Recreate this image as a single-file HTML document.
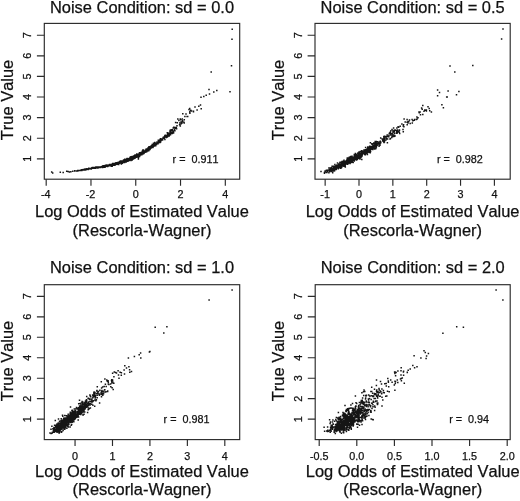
<!DOCTYPE html>
<html lang="en"><head><meta charset="utf-8"><title>Noise Condition scatter plots</title>
<style>
html,body{margin:0;padding:0;background:#fff;}
svg{display:block;}
text{font-family:"Liberation Sans", sans-serif;fill:#111;stroke:#111;stroke-width:.25px;font-kerning:none;}
.t{font-size:16.45px;}
.a{font-size:10.8px;}
.ln{stroke:#2a2a2a;stroke-width:1.15;fill:none;}
.pt{stroke:#151515;stroke-width:1.5;stroke-linecap:square;fill:none;}
</style></head><body>
<svg width="520" height="501" viewBox="0 0 520 501">
<rect width="520" height="501" fill="#fff"/>
<g>
<rect class="ln" x="44.3" y="23.4" width="195.4" height="155.8"/>
<path class="ln" d="M36.9 158.80H44.3M36.9 138.20H44.3M36.9 117.60H44.3M36.9 97.00H44.3M36.9 76.40H44.3M36.9 55.80H44.3M36.9 35.20H44.3M46.19 179.2V185.7M90.97 179.2V185.7M135.75 179.2V185.7M180.53 179.2V185.7M225.31 179.2V185.7"/>
<text class="a" text-anchor="middle" transform="translate(31.0 158.80) rotate(-90)">1</text><text class="a" text-anchor="middle" transform="translate(31.0 138.20) rotate(-90)">2</text><text class="a" text-anchor="middle" transform="translate(31.0 117.60) rotate(-90)">3</text><text class="a" text-anchor="middle" transform="translate(31.0 97.00) rotate(-90)">4</text><text class="a" text-anchor="middle" transform="translate(31.0 76.40) rotate(-90)">5</text><text class="a" text-anchor="middle" transform="translate(31.0 55.80) rotate(-90)">6</text><text class="a" text-anchor="middle" transform="translate(31.0 35.20) rotate(-90)">7</text>
<text class="a" text-anchor="middle" x="45.69" y="198.4">-4</text><text class="a" text-anchor="middle" x="90.47" y="198.4">-2</text><text class="a" text-anchor="middle" x="135.75" y="198.4">0</text><text class="a" text-anchor="middle" x="180.53" y="198.4">2</text><text class="a" text-anchor="middle" x="225.31" y="198.4">4</text>
<text class="t" text-anchor="middle" x="142.0" y="12.5">Noise Condition: sd = 0.0</text>
<text class="t" text-anchor="middle" x="142.0" y="216.8">Log Odds of Estimated Value</text>
<text class="t" text-anchor="middle" x="142.0" y="236.0">(Rescorla-Wagner)</text>
<text class="t" text-anchor="middle" transform="translate(12.9 100.0) rotate(-90)">True Value</text>
<text class="a" x="172.6" y="162.6" xml:space="preserve">r =  0.911</text>
<path class="pt" d="M134.5 158.3h0M141.1 154.2h0M126.7 160.3h0M109.1 165.0h0M122.9 162.2h0M105.5 165.3h0M136.8 155.6h0M167.4 136.9h0M122.7 161.1h0M118.4 164.1h0M145.8 151.0h0M143.2 153.2h0M137.2 156.2h0M109.2 165.8h0M132.6 157.5h0M150.1 147.9h0M93.1 168.1h0M122.3 162.6h0M95.6 168.3h0M77.7 170.7h0M127.6 159.7h0M97.3 167.1h0M141.8 154.7h0M138.1 156.2h0M129.8 159.0h0M121.3 163.4h0M132.9 158.0h0M136.1 156.9h0M87.3 169.2h0M120.6 160.9h0M106.6 165.7h0M113.3 164.5h0M159.1 142.3h0M113.3 164.2h0M133.3 157.4h0M155.0 144.3h0M119.3 162.9h0M131.1 158.6h0M136.7 156.9h0M135.3 157.3h0M98.5 167.5h0M136.5 156.7h0M166.5 136.0h0M86.0 169.3h0M153.2 146.7h0M136.8 154.0h0M118.6 163.3h0M184.3 119.8h0M151.2 148.0h0M98.9 166.9h0M136.4 156.8h0M147.5 150.7h0M129.7 159.0h0M149.4 146.8h0M133.7 157.8h0M149.1 147.7h0M170.5 134.7h0M117.4 163.2h0M139.5 156.4h0M123.1 162.0h0M137.0 155.3h0M98.8 167.0h0M119.3 162.2h0M128.7 159.7h0M154.4 146.0h0M160.9 140.1h0M94.5 168.3h0M113.3 164.1h0M146.4 149.2h0M105.0 167.2h0M121.7 161.0h0M131.6 159.4h0M162.7 139.0h0M150.3 146.8h0M126.9 159.6h0M123.9 160.4h0M128.1 160.7h0M170.3 131.7h0M122.3 161.5h0M127.1 161.0h0M142.1 153.2h0M131.1 158.8h0M129.3 159.2h0M104.2 167.2h0M133.1 156.9h0M121.7 162.9h0M160.2 139.6h0M148.9 148.2h0M133.4 158.1h0M149.4 149.0h0M124.8 159.3h0M158.6 142.2h0M133.6 156.3h0M146.3 149.2h0M94.9 168.1h0M141.9 152.5h0M83.0 170.0h0M126.1 162.0h0M109.2 165.3h0M138.1 154.5h0M197.1 110.1h0M111.6 164.4h0M118.3 163.3h0M139.4 155.0h0M144.8 152.0h0M130.1 159.4h0M129.4 159.6h0M149.4 148.3h0M146.1 150.7h0M105.6 166.4h0M132.8 158.8h0M134.5 157.6h0M104.4 166.2h0M142.4 152.9h0M110.7 164.6h0M156.9 143.8h0M139.4 153.1h0M136.2 156.0h0M119.2 163.3h0M131.4 158.2h0M102.6 167.6h0M142.5 154.1h0M153.3 146.8h0M80.8 170.4h0M151.2 146.3h0M111.2 166.3h0M152.4 146.1h0M138.5 155.6h0M87.6 168.9h0M164.3 138.3h0M167.3 132.8h0M133.4 158.1h0M127.1 161.0h0M129.9 159.2h0M107.9 165.7h0M159.5 142.4h0M121.1 162.0h0M132.8 158.7h0M113.0 164.4h0M117.9 163.4h0M96.1 167.8h0M163.3 138.1h0M131.4 158.9h0M157.0 143.0h0M134.2 156.7h0M115.7 164.1h0M125.7 160.6h0M119.3 162.0h0M133.6 156.7h0M124.9 160.6h0M126.8 160.4h0M91.5 168.4h0M112.0 164.7h0M175.4 128.2h0M115.9 163.6h0M104.0 165.8h0M142.7 151.0h0M169.0 134.7h0M88.8 168.3h0M128.2 158.8h0M117.7 162.6h0M80.2 170.4h0M150.6 146.6h0M132.9 157.8h0M136.0 156.1h0M112.7 163.6h0M143.1 150.4h0M119.4 162.8h0M131.5 159.2h0M102.2 167.0h0M97.7 168.0h0M166.4 136.6h0M121.8 162.5h0M140.9 153.8h0M132.8 157.8h0M123.9 161.5h0M122.5 161.7h0M148.7 150.7h0M126.7 159.0h0M130.4 159.1h0M134.6 157.4h0M160.8 139.7h0M149.6 147.6h0M142.8 152.5h0M119.6 162.4h0M92.5 168.0h0M156.2 143.9h0M157.0 143.3h0M129.6 158.4h0M146.8 151.0h0M151.2 145.9h0M152.6 146.3h0M154.8 143.9h0M123.8 162.1h0M171.8 132.3h0M97.1 167.6h0M152.2 144.6h0M145.5 150.5h0M153.6 144.5h0M184.2 123.1h0M167.7 133.7h0M100.3 167.4h0M82.3 169.8h0M152.8 146.2h0M106.2 165.4h0M134.2 155.7h0M154.4 145.1h0M84.1 169.5h0M139.7 152.8h0M135.3 157.2h0M128.5 159.2h0M135.0 155.5h0M112.2 166.2h0M87.4 169.1h0M131.8 158.8h0M107.3 166.1h0M83.9 169.5h0M145.0 152.2h0M131.2 156.7h0M142.3 151.3h0M107.0 165.9h0M118.1 163.0h0M107.6 166.6h0M110.3 164.4h0M138.6 154.4h0M112.7 164.6h0M143.0 153.4h0M142.1 154.0h0M182.3 119.0h0M91.2 169.0h0M154.8 144.6h0M130.7 158.4h0M134.9 158.1h0M90.0 168.6h0M122.3 161.6h0M150.8 147.0h0M133.1 157.7h0M136.9 155.5h0M127.7 159.8h0M160.5 138.8h0M133.3 157.8h0M126.9 159.2h0M115.4 164.9h0M156.5 144.6h0M122.2 162.3h0M166.5 135.8h0M135.3 157.7h0M100.4 167.2h0M108.3 165.8h0M159.9 139.9h0M138.0 156.3h0M135.0 156.1h0M133.5 157.9h0M134.9 155.5h0M151.8 145.8h0M147.7 150.6h0M139.7 154.4h0M105.2 166.1h0M145.5 151.5h0M114.8 163.6h0M159.8 142.2h0M95.9 166.9h0M132.1 159.2h0M133.2 157.8h0M94.0 167.5h0M177.0 125.7h0M169.7 134.3h0M122.9 161.1h0M150.7 146.4h0M143.4 153.1h0M140.2 154.7h0M131.8 157.2h0M135.9 156.6h0M103.7 166.9h0M127.3 160.3h0M130.1 157.4h0M162.6 139.9h0M140.3 153.3h0M133.0 156.6h0M170.6 133.3h0M119.7 161.5h0M124.6 162.5h0M77.8 170.4h0M172.5 132.5h0M156.8 143.5h0M155.0 143.4h0M148.0 148.6h0M136.9 156.3h0M138.8 155.2h0M128.1 160.7h0M129.2 158.7h0M135.7 157.0h0M170.4 133.0h0M147.2 150.0h0M131.3 157.2h0M119.2 162.2h0M117.5 163.7h0M170.0 130.9h0M146.2 150.2h0M134.7 155.4h0M125.7 161.7h0M102.5 166.1h0M132.1 158.1h0M153.8 144.5h0M123.6 159.9h0M128.4 159.7h0M130.1 159.4h0M136.8 157.2h0M85.1 170.0h0M128.7 159.6h0M112.2 165.5h0M155.4 145.8h0M114.9 164.1h0M146.2 149.2h0M172.2 133.6h0M127.0 160.2h0M118.7 163.0h0M138.6 154.8h0M132.0 157.2h0M106.3 165.7h0M145.9 152.1h0M178.9 120.4h0M127.8 159.6h0M129.5 158.3h0M104.3 166.3h0M142.6 152.3h0M96.5 167.3h0M103.0 167.2h0M164.9 139.4h0M108.8 165.5h0M159.1 140.6h0M173.6 132.8h0M141.2 152.4h0M146.8 149.7h0M175.6 122.6h0M129.5 159.9h0M119.2 162.1h0M92.5 167.6h0M135.2 157.5h0M173.5 133.0h0M156.0 143.2h0M107.9 165.8h0M111.7 164.7h0M121.7 160.9h0M140.7 154.4h0M129.1 158.9h0M139.6 154.0h0M141.8 152.7h0M126.0 160.5h0M133.4 157.1h0M139.4 155.4h0M131.3 158.0h0M146.7 151.8h0M182.0 122.6h0M146.8 149.1h0M135.6 155.1h0M83.4 169.6h0M144.2 153.1h0M91.6 168.1h0M152.9 144.7h0M149.0 148.2h0M131.5 159.2h0M82.3 169.9h0M125.1 161.1h0M116.0 162.7h0M148.8 148.7h0M189.8 112.3h0M139.7 156.0h0M113.6 164.3h0M100.1 167.0h0M133.0 158.2h0M128.8 160.0h0M101.0 167.1h0M138.1 155.3h0M101.8 167.1h0M160.2 141.6h0M158.8 141.2h0M158.3 140.3h0M122.5 162.3h0M146.8 151.1h0M130.1 159.4h0M125.0 161.2h0M125.9 160.2h0M95.3 167.7h0M89.1 168.4h0M152.5 145.7h0M128.9 158.8h0M141.0 154.4h0M157.6 143.8h0M81.1 169.9h0M114.0 164.4h0M139.0 154.8h0M142.6 153.7h0M126.3 161.3h0M157.0 142.1h0M139.7 155.5h0M98.8 167.4h0M107.1 165.3h0M152.8 147.5h0M144.1 152.1h0M165.1 137.0h0M147.8 150.2h0M164.7 136.2h0M124.2 160.3h0M126.8 160.8h0M101.4 166.8h0M131.5 159.7h0M170.5 130.5h0M117.0 163.0h0M137.9 154.6h0M82.7 170.0h0M124.9 162.1h0M157.2 143.0h0M97.0 167.7h0M158.6 142.7h0M142.0 152.5h0M105.4 166.1h0M122.5 161.4h0M122.6 162.6h0M131.8 158.0h0M122.1 162.2h0M112.5 163.9h0M126.8 160.3h0M105.4 166.6h0M95.2 167.7h0M132.7 157.5h0M153.9 145.5h0M86.9 168.8h0M133.8 157.3h0M116.9 163.8h0M106.9 165.5h0M154.2 144.9h0M120.9 162.5h0M170.0 132.5h0M112.2 164.3h0M142.8 152.7h0M129.0 159.8h0M113.3 163.7h0M146.5 149.2h0M130.6 159.3h0M147.1 150.4h0M133.5 158.9h0M103.4 166.2h0M132.3 159.2h0M134.6 157.3h0M155.1 143.7h0M109.2 165.6h0M133.6 158.4h0M81.8 170.4h0M148.6 147.9h0M103.1 166.8h0M79.2 170.4h0M133.2 157.8h0M160.6 141.9h0M87.7 169.3h0M103.7 166.2h0M114.7 164.0h0M102.3 166.9h0M143.4 151.5h0M112.5 165.1h0M114.8 163.9h0M149.0 149.9h0M113.9 164.4h0M143.7 153.4h0M107.3 165.8h0M98.4 167.2h0M77.8 170.9h0M177.3 122.7h0M125.2 160.2h0M140.7 153.3h0M132.1 158.5h0M138.1 155.7h0M135.1 157.1h0M183.9 122.2h0M106.0 166.2h0M86.2 169.1h0M105.8 165.7h0M92.9 168.2h0M150.2 147.4h0M152.3 147.4h0M107.1 165.4h0M91.7 168.2h0M125.3 160.1h0M167.8 136.3h0M104.5 165.8h0M145.5 151.2h0M103.4 167.1h0M158.4 142.1h0M102.8 166.8h0M127.2 158.6h0M88.7 168.9h0M106.9 165.1h0M167.5 135.4h0M152.3 146.1h0M125.1 160.8h0M110.5 165.5h0M74.7 170.9h0M124.5 160.9h0M132.7 157.2h0M133.2 157.0h0M132.1 158.2h0M102.3 167.6h0M132.3 157.4h0M133.3 158.0h0M164.3 136.8h0M180.9 124.1h0M130.2 159.1h0M113.6 164.2h0M132.3 156.6h0M117.5 162.8h0M114.1 164.8h0M132.4 157.7h0M105.1 166.5h0M148.6 149.1h0M130.5 156.9h0M140.2 154.7h0M128.7 159.5h0M114.7 163.7h0M107.8 165.5h0M126.4 160.0h0M119.2 162.2h0M140.1 154.8h0M133.8 157.2h0M92.8 167.5h0M135.2 156.4h0M94.3 167.9h0M118.4 162.7h0M126.4 160.6h0M149.6 148.5h0M136.6 156.7h0M138.0 156.4h0M131.1 159.1h0M123.5 160.4h0M125.5 160.5h0M107.1 166.2h0M126.6 159.9h0M120.6 162.1h0M136.5 156.2h0M98.8 167.5h0M139.7 154.7h0M138.2 156.2h0M130.9 158.1h0M123.0 161.5h0M147.1 150.1h0M83.1 169.8h0M143.5 149.9h0M140.7 154.2h0M141.8 152.9h0M143.3 153.7h0M118.4 164.4h0M127.9 161.3h0M148.8 149.6h0M145.0 151.6h0M138.6 155.6h0M88.3 169.0h0M147.5 151.0h0M161.9 139.0h0M158.8 142.3h0M140.4 154.9h0M86.1 169.7h0M156.1 144.0h0M131.0 160.6h0M138.5 157.4h0M142.8 151.7h0M88.8 168.9h0M95.5 167.5h0M117.0 163.2h0M164.1 137.2h0M125.3 161.0h0M140.3 154.8h0M176.3 127.5h0M172.3 130.6h0M131.6 158.4h0M128.6 159.9h0M97.0 167.7h0M116.7 164.1h0M144.4 152.1h0M143.8 152.9h0M137.6 155.0h0M158.0 143.7h0M113.5 165.3h0M133.2 158.1h0M151.0 146.4h0M147.2 150.9h0M158.7 141.4h0M142.9 150.1h0M126.1 160.3h0M141.4 153.4h0M106.5 166.2h0M84.1 169.9h0M147.2 150.3h0M132.9 158.0h0M142.5 152.0h0M81.9 169.7h0M124.9 161.1h0M118.0 163.4h0M109.6 164.5h0M146.3 149.1h0M127.3 161.1h0M153.5 143.3h0M143.4 151.1h0M119.8 162.9h0M133.4 157.7h0M152.6 146.8h0M131.8 158.6h0M148.0 149.3h0M150.2 148.8h0M174.4 127.6h0M161.1 140.6h0M140.7 154.1h0M140.7 153.3h0M151.6 147.3h0M122.5 163.3h0M132.7 158.1h0M154.5 145.7h0M180.7 119.8h0M130.4 159.7h0M133.0 158.0h0M138.5 154.2h0M164.8 136.1h0M132.7 157.2h0M167.8 132.8h0M107.6 165.8h0M131.1 160.1h0M129.8 159.1h0M153.0 146.8h0M158.6 141.0h0M88.1 169.0h0M108.2 166.0h0M142.2 153.9h0M116.4 163.8h0M87.5 168.9h0M159.4 141.5h0M145.5 151.0h0M145.8 150.1h0M122.2 161.1h0M157.0 143.2h0M128.2 159.1h0M160.0 142.6h0M110.1 164.7h0M112.5 165.2h0M139.0 154.0h0M115.2 163.9h0M149.0 147.6h0M140.1 154.3h0M108.2 165.4h0M136.1 156.1h0M125.6 161.2h0M155.7 145.7h0M117.6 162.9h0M123.3 162.3h0M160.9 139.0h0M193.5 111.7h0M181.0 122.1h0M135.1 154.9h0M139.3 154.2h0M170.4 130.1h0M130.6 158.4h0M106.6 165.7h0M138.4 159.0h0M144.3 152.0h0M112.2 165.7h0M84.2 170.0h0M90.3 168.5h0M149.4 149.0h0M114.3 165.2h0M131.8 158.9h0M139.9 155.0h0M148.3 149.7h0M125.3 159.6h0M146.0 150.4h0M110.6 165.4h0M124.1 161.3h0M105.5 165.8h0M160.4 140.2h0M133.7 157.5h0M113.7 164.0h0M126.2 161.4h0M127.8 159.7h0M150.0 148.2h0M85.0 169.1h0M104.2 165.8h0M124.4 161.3h0M154.8 142.5h0M131.3 158.7h0M149.6 147.3h0M184.9 116.5h0M128.3 160.2h0M125.2 160.5h0M164.1 138.2h0M145.7 150.6h0M148.4 148.5h0M121.4 164.0h0M180.3 119.0h0M175.6 127.4h0M146.5 149.9h0M148.7 149.0h0M132.1 158.5h0M148.8 147.0h0M129.2 160.4h0M144.1 151.1h0M148.9 148.3h0M126.1 159.7h0M82.3 169.7h0M143.3 152.4h0M112.9 164.6h0M126.1 161.3h0M119.3 162.7h0M127.1 161.1h0M160.9 138.9h0M140.4 154.4h0M160.1 141.4h0M177.8 119.1h0M134.1 156.9h0M80.0 170.5h0M110.7 165.3h0M98.9 167.0h0M121.1 163.3h0M138.0 156.0h0M132.3 158.5h0M141.8 153.3h0M87.5 169.3h0M142.2 152.0h0M132.2 160.1h0M127.3 160.3h0M132.4 157.1h0M120.4 162.6h0M118.7 164.5h0M82.6 170.0h0M134.3 156.6h0M181.8 123.2h0M182.6 121.6h0M165.1 135.4h0M150.5 147.8h0M117.2 163.5h0M169.2 135.9h0M132.9 157.7h0M132.5 159.1h0M125.7 159.8h0M135.7 155.6h0M123.0 162.3h0M132.1 158.7h0M103.4 165.8h0M125.4 161.5h0M193.5 111.2h0M132.6 157.5h0M129.1 159.9h0M146.2 150.8h0M150.3 147.5h0M102.9 166.5h0M127.9 158.9h0M155.6 144.2h0M140.0 153.0h0M137.7 155.9h0M171.9 129.8h0M116.6 163.7h0M135.7 156.3h0M120.2 161.7h0M171.2 133.6h0M116.9 164.3h0M121.1 161.5h0M149.9 149.6h0M148.6 149.6h0M167.5 134.9h0M85.5 169.2h0M150.9 147.2h0M126.4 161.4h0M117.8 163.9h0M146.9 150.1h0M108.9 165.1h0M124.7 161.4h0M88.1 169.4h0M117.7 162.8h0M141.6 152.8h0M141.9 153.2h0M172.4 129.8h0M129.1 159.7h0M86.3 169.3h0M113.8 163.5h0M109.9 164.9h0M98.3 167.8h0M142.8 152.2h0M117.9 163.7h0M148.2 147.8h0M131.5 158.8h0M141.5 152.6h0M136.1 155.2h0M147.7 149.1h0M135.0 157.6h0M163.1 137.5h0M143.1 152.9h0M142.5 153.1h0M143.7 151.6h0M89.9 168.7h0M130.9 159.0h0M128.5 160.5h0M136.7 155.4h0M92.1 167.8h0M173.2 128.0h0M136.8 156.9h0M97.8 167.4h0M82.5 170.1h0M127.9 160.4h0M131.5 159.5h0M115.4 163.3h0M136.4 157.1h0M117.0 162.9h0M146.7 150.8h0M114.6 164.7h0M132.3 156.6h0M169.0 133.4h0M166.0 135.7h0M173.8 127.3h0M168.2 135.7h0M189.7 108.5h0M167.5 135.2h0M173.4 131.6h0M167.9 134.4h0M166.3 135.6h0M179.6 124.7h0M166.3 137.6h0M186.0 113.9h0M182.5 120.7h0M176.6 128.8h0M182.8 113.8h0M187.7 116.6h0M171.9 130.0h0M187.1 116.6h0M189.9 111.4h0M179.8 123.0h0M174.6 129.3h0M191.6 111.1h0M189.0 109.5h0M174.9 130.7h0M165.4 135.2h0M189.9 113.2h0M182.4 121.4h0M171.2 133.2h0M180.3 125.9h0M173.2 131.2h0M190.7 110.2h0M174.3 130.5h0M169.5 135.1h0M168.7 135.4h0M171.6 130.6h0M232.2 29.2h0M232.0 39.2h0M231.5 65.8h0M211.2 72.0h0M230.0 91.8h0M216.8 90.5h0M213.8 92.0h0M209.0 89.5h0M209.5 94.0h0M206.2 95.2h0M203.8 96.5h0M201.0 97.2h0M200.5 105.0h0M198.8 106.2h0M195.0 107.0h0M201.2 108.8h0M51.7 172.1h0M52.7 173.1h0M60.3 172.3h0M63.2 172.5h0M66.7 171.2h0M68.0 171.5h0M69.4 171.9h0M70.9 171.7h0M72.8 171.3h0M74.8 170.8h0M76.5 170.9h0"/>
</g>
<g>
<rect class="ln" x="315.0" y="23.4" width="195.2" height="155.8"/>
<path class="ln" d="M307.6 158.80H315.0M307.6 138.20H315.0M307.6 117.60H315.0M307.6 97.00H315.0M307.6 76.40H315.0M307.6 55.80H315.0M307.6 35.20H315.0M325.15 179.2V185.7M359.00 179.2V185.7M392.85 179.2V185.7M426.70 179.2V185.7M460.55 179.2V185.7M494.40 179.2V185.7"/>
<text class="a" text-anchor="middle" transform="translate(301.7 158.80) rotate(-90)">1</text><text class="a" text-anchor="middle" transform="translate(301.7 138.20) rotate(-90)">2</text><text class="a" text-anchor="middle" transform="translate(301.7 117.60) rotate(-90)">3</text><text class="a" text-anchor="middle" transform="translate(301.7 97.00) rotate(-90)">4</text><text class="a" text-anchor="middle" transform="translate(301.7 76.40) rotate(-90)">5</text><text class="a" text-anchor="middle" transform="translate(301.7 55.80) rotate(-90)">6</text><text class="a" text-anchor="middle" transform="translate(301.7 35.20) rotate(-90)">7</text>
<text class="a" text-anchor="middle" x="325.15" y="198.4">-1</text><text class="a" text-anchor="middle" x="359.00" y="198.4">0</text><text class="a" text-anchor="middle" x="392.85" y="198.4">1</text><text class="a" text-anchor="middle" x="426.70" y="198.4">2</text><text class="a" text-anchor="middle" x="460.55" y="198.4">3</text><text class="a" text-anchor="middle" x="494.40" y="198.4">4</text>
<text class="t" text-anchor="middle" x="412.6" y="12.5">Noise Condition: sd = 0.5</text>
<text class="t" text-anchor="middle" x="412.6" y="216.8">Log Odds of Estimated Value</text>
<text class="t" text-anchor="middle" x="412.6" y="236.0">(Rescorla-Wagner)</text>
<text class="t" text-anchor="middle" transform="translate(283.6 100.0) rotate(-90)">True Value</text>
<text class="a" x="436.9" y="162.6" xml:space="preserve">r =  0.982</text>
<path class="pt" d="M354.4 157.2h0M363.0 153.5h0M351.0 159.6h0M338.7 164.2h0M346.7 160.9h0M342.1 165.3h0M359.7 157.1h0M392.1 135.9h0M349.1 161.6h0M343.9 163.6h0M365.1 151.5h0M365.9 152.5h0M354.3 155.7h0M340.2 166.0h0M349.7 157.9h0M370.0 147.6h0M333.6 168.3h0M344.0 161.8h0M331.7 171.6h0M334.1 167.2h0M329.7 171.2h0M350.3 160.0h0M334.3 167.0h0M365.3 154.8h0M357.3 156.1h0M352.4 158.4h0M324.5 173.3h0M344.8 161.8h0M353.6 157.2h0M356.9 155.8h0M332.0 169.6h0M347.4 162.4h0M343.9 165.8h0M341.7 165.6h0M379.9 142.1h0M341.0 165.6h0M361.8 159.5h0M380.2 145.1h0M346.9 161.2h0M355.2 158.2h0M355.7 155.3h0M356.3 156.7h0M337.3 167.5h0M357.3 155.6h0M387.2 135.0h0M331.3 169.0h0M376.3 145.3h0M358.8 154.2h0M338.8 164.0h0M412.1 119.4h0M376.3 147.0h0M335.4 167.5h0M357.6 155.8h0M364.0 149.9h0M354.1 160.0h0M367.5 149.0h0M350.6 158.3h0M369.5 148.4h0M399.7 133.5h0M342.3 164.5h0M356.1 155.3h0M348.5 161.6h0M358.7 154.4h0M341.6 166.6h0M342.0 161.6h0M347.3 160.2h0M374.8 144.9h0M384.3 139.7h0M336.6 167.8h0M345.1 166.3h0M365.5 149.7h0M336.9 165.3h0M346.9 161.8h0M355.9 157.5h0M388.3 136.8h0M369.7 148.3h0M346.7 162.3h0M351.2 162.1h0M353.4 159.9h0M403.3 131.8h0M347.3 161.7h0M354.3 161.1h0M359.7 152.0h0M351.6 157.3h0M349.8 160.7h0M336.8 166.9h0M352.8 158.5h0M346.1 161.9h0M383.7 140.8h0M368.7 148.4h0M356.8 157.9h0M370.2 149.6h0M349.2 161.5h0M384.5 141.7h0M356.2 158.0h0M368.8 149.4h0M336.0 166.8h0M363.2 153.5h0M333.6 170.9h0M327.0 172.0h0M353.0 159.6h0M345.0 165.9h0M362.1 155.9h0M424.0 111.2h0M337.5 163.1h0M343.6 163.9h0M360.2 155.5h0M368.6 151.5h0M351.6 158.0h0M350.7 158.4h0M375.7 148.7h0M364.9 151.3h0M341.9 166.6h0M356.4 158.0h0M352.4 157.2h0M339.5 166.0h0M359.4 154.0h0M338.8 164.4h0M372.0 143.7h0M355.1 154.8h0M358.4 157.0h0M344.2 163.5h0M353.9 158.0h0M326.6 172.5h0M337.0 166.1h0M362.6 153.2h0M324.4 172.5h0M369.6 146.6h0M332.7 168.6h0M372.9 147.8h0M339.0 165.8h0M372.7 147.8h0M360.0 154.3h0M338.3 168.7h0M383.9 138.1h0M394.4 133.7h0M360.0 159.0h0M350.5 159.7h0M356.4 159.9h0M332.9 166.2h0M385.9 140.1h0M346.0 161.9h0M349.2 157.5h0M344.3 164.6h0M347.5 163.9h0M339.4 167.6h0M390.5 138.6h0M352.4 157.8h0M375.2 141.5h0M354.4 156.9h0M343.6 164.1h0M350.6 160.4h0M344.4 162.0h0M355.7 157.5h0M351.0 162.4h0M350.8 160.3h0M341.2 167.8h0M347.8 164.0h0M394.8 130.3h0M342.5 163.6h0M335.3 166.8h0M359.5 154.1h0M393.0 135.5h0M331.7 168.1h0M348.6 160.2h0M343.9 163.9h0M333.5 170.6h0M370.9 148.2h0M354.0 157.2h0M359.5 156.5h0M344.1 163.9h0M366.7 152.2h0M348.6 162.1h0M349.9 159.1h0M338.7 165.9h0M335.2 167.3h0M392.3 136.1h0M348.8 162.2h0M358.7 153.9h0M358.5 157.5h0M344.4 161.5h0M349.7 160.8h0M370.1 149.9h0M347.5 160.0h0M349.4 158.7h0M355.0 156.5h0M384.1 140.3h0M368.6 147.7h0M365.4 153.0h0M341.9 163.6h0M335.0 169.5h0M377.0 144.7h0M371.8 144.0h0M353.6 158.0h0M363.7 151.3h0M365.6 147.6h0M372.3 146.5h0M375.6 144.9h0M349.8 161.9h0M393.0 131.9h0M340.4 168.3h0M379.1 146.3h0M369.4 150.4h0M379.1 145.8h0M408.0 123.0h0M391.9 133.6h0M339.4 167.1h0M334.6 170.7h0M374.5 146.9h0M338.6 166.7h0M350.8 156.5h0M376.4 146.4h0M333.4 169.7h0M325.1 170.9h0M361.3 154.8h0M358.4 155.9h0M350.5 160.5h0M358.4 158.1h0M343.3 164.7h0M329.8 169.7h0M351.4 159.4h0M341.1 166.3h0M334.9 168.8h0M370.6 151.4h0M348.9 158.1h0M364.1 152.9h0M341.5 165.9h0M347.5 164.3h0M344.0 166.2h0M338.4 165.7h0M358.5 156.0h0M339.5 164.6h0M365.6 153.7h0M359.0 153.4h0M417.1 119.0h0M337.4 168.0h0M376.9 145.5h0M347.6 159.1h0M353.2 157.4h0M336.3 169.3h0M343.4 162.2h0M371.4 146.6h0M353.5 158.5h0M359.6 157.3h0M350.8 160.0h0M384.3 138.8h0M353.8 157.7h0M349.8 160.0h0M343.3 165.1h0M380.1 143.3h0M326.9 172.4h0M349.0 162.0h0M383.8 136.6h0M359.8 156.4h0M336.9 166.5h0M343.3 165.6h0M382.9 140.0h0M361.1 156.4h0M360.6 156.0h0M352.8 157.9h0M356.4 156.4h0M373.0 145.4h0M368.2 151.4h0M355.4 153.4h0M338.5 167.3h0M365.9 149.9h0M341.7 163.8h0M380.8 142.8h0M332.1 166.3h0M356.7 157.9h0M356.5 158.3h0M340.7 168.2h0M398.1 126.8h0M389.3 133.5h0M348.0 161.2h0M367.8 147.0h0M364.4 153.8h0M325.8 172.0h0M359.8 154.5h0M354.9 158.8h0M357.2 157.8h0M343.5 166.1h0M352.2 160.3h0M348.4 158.8h0M387.6 139.0h0M358.9 153.0h0M355.5 157.0h0M390.9 130.8h0M343.5 161.3h0M352.0 160.7h0M329.4 170.6h0M393.9 131.8h0M375.7 143.3h0M375.2 144.4h0M374.6 149.0h0M354.3 156.6h0M356.4 154.7h0M352.3 159.9h0M347.1 160.8h0M355.5 156.5h0M398.0 132.0h0M367.7 149.1h0M352.9 158.3h0M343.5 162.7h0M342.0 164.7h0M395.1 130.0h0M366.9 151.5h0M360.3 157.2h0M351.8 162.0h0M336.6 165.8h0M352.0 159.1h0M377.2 145.2h0M343.3 161.2h0M349.9 159.5h0M350.3 159.4h0M354.5 155.9h0M330.2 167.9h0M351.9 160.1h0M336.9 165.1h0M372.6 144.4h0M340.8 164.4h0M368.4 151.5h0M390.3 132.3h0M352.6 160.3h0M344.2 164.2h0M358.6 154.6h0M354.3 157.2h0M337.7 165.6h0M362.6 151.4h0M416.4 119.4h0M351.1 160.4h0M351.2 159.0h0M341.5 166.2h0M360.2 153.6h0M338.1 167.3h0M338.1 166.7h0M384.6 137.0h0M342.7 164.9h0M376.3 141.5h0M396.7 131.4h0M358.3 154.6h0M368.7 150.2h0M414.3 120.2h0M353.2 159.0h0M343.5 162.7h0M335.2 168.1h0M355.1 156.9h0M389.7 133.0h0M373.8 143.1h0M340.2 166.6h0M342.7 165.6h0M341.7 162.3h0M361.4 154.5h0M352.8 159.7h0M360.1 154.7h0M358.8 153.9h0M352.6 162.2h0M351.1 158.4h0M361.5 155.6h0M358.1 158.0h0M360.4 151.4h0M407.2 124.7h0M369.3 150.0h0M357.0 157.4h0M329.9 170.8h0M362.9 153.0h0M326.0 172.1h0M335.0 168.7h0M376.1 145.9h0M369.2 147.5h0M349.8 160.7h0M330.4 170.2h0M348.5 161.1h0M343.9 164.6h0M369.1 148.7h0M426.4 111.1h0M356.1 154.3h0M334.9 164.5h0M338.9 166.9h0M358.1 158.3h0M348.0 159.1h0M335.7 166.6h0M358.5 155.8h0M340.0 166.9h0M383.8 140.5h0M384.0 142.5h0M380.7 141.9h0M348.0 162.1h0M367.7 150.0h0M351.5 159.1h0M351.5 160.4h0M350.8 160.9h0M338.3 167.9h0M333.2 168.3h0M376.1 146.0h0M348.7 158.9h0M360.9 156.2h0M370.4 142.8h0M328.8 170.0h0M344.2 165.1h0M357.6 155.6h0M364.3 153.3h0M344.0 160.3h0M383.7 141.7h0M361.4 157.1h0M336.7 167.3h0M341.3 165.4h0M374.3 146.5h0M369.4 152.2h0M330.6 170.1h0M384.8 136.3h0M367.8 149.6h0M393.1 136.6h0M349.9 161.3h0M348.6 160.0h0M339.4 166.3h0M352.2 157.5h0M398.3 131.2h0M339.9 162.4h0M356.1 155.2h0M333.8 171.0h0M347.7 160.9h0M378.7 143.7h0M341.5 167.5h0M379.5 142.1h0M363.3 153.3h0M337.3 166.0h0M344.8 163.1h0M346.9 161.7h0M350.2 157.0h0M340.2 162.3h0M345.2 165.2h0M349.4 159.7h0M341.9 166.7h0M336.2 168.3h0M354.7 159.3h0M377.1 144.6h0M335.2 169.6h0M352.0 156.2h0M347.4 163.2h0M337.0 165.9h0M375.1 145.8h0M353.1 162.3h0M394.1 132.6h0M346.7 164.0h0M362.7 152.3h0M352.7 159.9h0M342.8 164.6h0M369.4 150.2h0M349.9 159.6h0M366.0 150.3h0M355.2 156.6h0M334.1 166.2h0M350.9 158.3h0M358.1 156.3h0M375.2 144.4h0M338.2 165.9h0M351.4 157.7h0M331.9 170.2h0M368.7 149.7h0M338.7 166.3h0M330.3 170.3h0M359.2 158.6h0M380.3 141.3h0M328.2 170.1h0M338.5 166.8h0M342.8 164.7h0M338.1 166.5h0M359.0 152.1h0M344.9 164.7h0M343.0 162.2h0M368.0 150.1h0M338.4 164.9h0M366.1 152.0h0M339.5 165.7h0M340.3 168.1h0M329.5 170.6h0M401.9 124.0h0M349.7 162.1h0M357.9 154.9h0M355.8 158.3h0M355.5 155.8h0M355.9 156.9h0M407.1 122.2h0M338.7 166.3h0M331.7 170.0h0M337.0 165.0h0M335.2 167.9h0M370.3 147.8h0M374.1 145.6h0M339.1 165.7h0M328.9 167.9h0M348.6 161.2h0M394.9 135.7h0M339.4 167.4h0M368.5 151.0h0M339.6 166.0h0M378.1 142.4h0M334.8 166.9h0M352.2 161.2h0M336.3 167.6h0M341.1 166.1h0M391.8 134.0h0M374.8 146.6h0M348.0 161.6h0M341.7 165.5h0M330.1 171.4h0M349.0 161.5h0M352.0 157.2h0M351.9 158.5h0M355.0 159.1h0M336.9 166.7h0M347.3 158.1h0M354.8 156.9h0M380.7 138.1h0M412.3 122.9h0M354.6 158.3h0M344.2 164.1h0M352.2 157.5h0M341.8 162.9h0M342.2 165.0h0M354.1 158.5h0M336.8 167.3h0M369.1 150.5h0M355.1 157.8h0M362.2 154.7h0M349.0 160.3h0M337.3 165.6h0M340.0 164.7h0M349.0 158.8h0M346.9 162.9h0M364.8 154.4h0M359.6 156.7h0M335.8 168.5h0M359.7 156.0h0M339.6 166.6h0M344.8 163.2h0M350.6 160.4h0M372.1 149.3h0M357.0 156.9h0M357.0 155.7h0M350.2 158.8h0M347.7 161.1h0M346.9 160.0h0M341.7 165.6h0M349.4 160.8h0M349.6 163.1h0M360.5 157.7h0M333.7 167.2h0M363.3 153.4h0M357.1 156.2h0M356.3 159.5h0M348.8 160.9h0M367.3 149.2h0M333.9 169.9h0M363.8 152.1h0M361.4 153.7h0M362.4 153.7h0M363.3 152.1h0M345.2 162.7h0M347.8 159.1h0M371.1 149.1h0M361.4 151.8h0M361.4 154.5h0M334.8 167.3h0M369.1 151.7h0M382.2 139.1h0M387.4 142.7h0M359.7 153.8h0M333.5 169.5h0M374.5 143.0h0M356.3 158.9h0M357.7 155.1h0M366.4 153.3h0M331.4 168.2h0M336.7 167.4h0M343.5 163.2h0M390.0 139.1h0M347.9 160.1h0M358.8 154.3h0M403.2 126.0h0M393.0 130.6h0M350.8 158.9h0M352.9 159.9h0M331.5 167.8h0M345.6 164.0h0M363.6 151.7h0M361.5 152.3h0M358.3 155.0h0M380.0 142.8h0M341.0 163.9h0M353.8 157.8h0M374.1 148.1h0M370.4 150.1h0M380.4 142.0h0M362.0 153.2h0M347.2 158.9h0M361.7 153.2h0M341.2 166.0h0M333.9 169.6h0M369.1 149.0h0M358.0 158.3h0M361.3 154.4h0M331.0 170.6h0M347.8 160.9h0M350.1 163.5h0M335.9 165.7h0M369.6 150.8h0M350.5 161.5h0M375.9 144.9h0M370.2 152.7h0M348.1 163.2h0M357.2 157.6h0M369.9 146.8h0M328.9 172.7h0M352.0 158.2h0M367.5 149.9h0M371.3 148.6h0M398.7 127.3h0M384.6 140.3h0M366.7 152.2h0M364.8 154.2h0M373.8 146.7h0M341.0 162.4h0M357.6 158.1h0M379.0 144.8h0M409.5 120.1h0M351.2 160.3h0M356.3 157.5h0M357.4 155.7h0M391.8 137.4h0M352.0 157.2h0M390.5 133.4h0M340.0 165.2h0M348.1 160.0h0M351.7 159.2h0M374.7 145.9h0M376.1 143.0h0M336.1 169.6h0M339.2 164.8h0M364.3 154.0h0M344.8 163.6h0M332.5 170.9h0M378.1 143.4h0M361.6 150.7h0M364.4 150.9h0M345.1 161.4h0M384.1 142.5h0M353.7 159.8h0M377.6 141.7h0M342.7 165.5h0M342.0 164.0h0M358.8 154.4h0M344.8 164.8h0M372.9 149.2h0M359.5 154.1h0M339.8 165.4h0M357.4 156.4h0M346.5 160.9h0M376.8 143.4h0M344.5 163.9h0M345.9 161.2h0M383.0 139.0h0M426.4 110.0h0M414.6 119.5h0M357.7 157.5h0M357.8 153.3h0M397.3 132.9h0M353.6 159.0h0M341.4 165.4h0M361.0 154.9h0M362.9 152.5h0M341.5 165.0h0M331.0 170.1h0M332.3 168.4h0M376.0 148.1h0M345.2 164.9h0M348.1 158.2h0M361.1 155.4h0M367.7 148.2h0M352.4 160.1h0M366.7 150.1h0M340.6 166.1h0M349.3 159.8h0M340.2 165.4h0M382.8 140.9h0M354.4 157.8h0M342.7 165.6h0M350.4 162.1h0M348.4 160.0h0M371.3 148.5h0M332.7 168.2h0M337.9 165.7h0M350.6 160.9h0M373.6 143.7h0M352.4 157.6h0M369.2 147.2h0M416.9 117.0h0M349.9 160.5h0M349.0 161.3h0M386.6 138.7h0M362.0 150.9h0M371.8 148.7h0M344.7 161.8h0M408.0 121.4h0M400.2 126.3h0M370.2 150.5h0M372.9 148.9h0M357.4 159.1h0M370.2 149.3h0M350.6 159.6h0M363.6 153.3h0M372.7 148.5h0M353.5 159.9h0M333.0 169.2h0M362.0 153.3h0M343.8 164.9h0M350.1 161.2h0M345.2 163.6h0M347.4 160.9h0M321.0 171.4h0M384.1 138.3h0M363.8 153.1h0M382.7 140.6h0M404.1 119.0h0M356.0 157.1h0M326.4 170.3h0M346.0 164.0h0M337.5 167.8h0M343.6 162.7h0M359.3 155.5h0M352.4 158.0h0M364.5 153.7h0M333.9 168.8h0M358.7 154.3h0M355.2 158.6h0M346.3 161.2h0M357.6 158.2h0M346.3 162.4h0M342.3 163.5h0M327.6 170.4h0M359.2 157.8h0M410.2 123.5h0M407.1 119.4h0M393.7 136.4h0M371.9 147.6h0M343.5 163.8h0M392.3 134.1h0M353.7 157.9h0M357.9 158.0h0M350.5 160.4h0M352.5 157.3h0M353.2 162.4h0M356.2 157.8h0M335.8 166.8h0M347.8 160.8h0M424.9 110.2h0M354.3 157.9h0M352.1 159.4h0M367.9 149.6h0M369.8 146.3h0M336.1 166.9h0M353.8 160.3h0M376.0 143.8h0M367.4 154.4h0M355.9 155.6h0M398.1 131.5h0M344.1 163.1h0M355.2 156.2h0M350.0 162.3h0M394.3 131.2h0M327.6 171.2h0M343.3 163.5h0M348.9 160.8h0M367.0 149.0h0M372.8 149.4h0M393.1 135.1h0M332.5 169.6h0M376.2 147.0h0M354.7 159.6h0M345.7 163.2h0M367.9 150.2h0M345.3 166.9h0M332.7 172.8h0M346.4 160.7h0M333.4 168.7h0M343.9 163.6h0M362.5 153.2h0M358.2 153.1h0M399.4 129.9h0M352.0 160.7h0M333.8 169.8h0M346.5 163.2h0M339.2 164.2h0M336.8 166.8h0M365.8 152.1h0M343.4 163.8h0M329.4 170.9h0M373.3 147.0h0M353.3 158.6h0M367.0 153.4h0M355.7 156.1h0M370.2 148.7h0M352.5 157.3h0M386.0 138.3h0M362.9 151.3h0M367.8 152.6h0M366.5 151.4h0M335.6 169.4h0M357.3 159.4h0M354.5 159.3h0M361.8 155.0h0M333.6 169.0h0M393.6 127.9h0M357.6 156.0h0M336.1 168.4h0M330.3 168.9h0M349.5 160.1h0M349.4 157.3h0M347.3 163.9h0M354.3 154.6h0M342.8 162.2h0M369.3 149.9h0M339.1 164.1h0M357.2 158.0h0M396.5 133.3h0M388.8 136.7h0M396.9 128.1h0M388.7 136.2h0M422.2 109.3h0M393.6 136.0h0M396.3 133.1h0M390.8 135.1h0M386.9 136.6h0M403.9 126.8h0M394.8 136.2h0M420.1 112.1h0M408.8 121.6h0M392.0 129.6h0M422.8 114.6h0M418.0 117.8h0M403.0 129.5h0M420.5 114.7h0M424.8 110.0h0M405.2 122.1h0M399.5 130.3h0M419.0 112.1h0M429.7 110.8h0M397.5 129.9h0M389.0 135.3h0M419.3 112.8h0M412.9 120.8h0M399.3 132.1h0M403.6 124.7h0M397.3 130.5h0M431.4 112.1h0M394.7 130.3h0M392.1 133.5h0M386.2 136.7h0M396.2 130.6h0M503.0 29.1h0M501.6 38.9h0M472.8 65.5h0M450.0 66.0h0M454.8 72.0h0M437.6 90.0h0M439.5 92.6h0M437.6 95.7h0M448.1 90.9h0M446.7 97.1h0M447.2 97.1h0M458.9 91.6h0M456.5 94.7h0M441.9 104.8h0M443.4 107.7h0M422.8 105.5h0M421.6 107.9h0M428.0 106.7h0M429.2 108.6h0"/>
</g>
<g>
<rect class="ln" x="44.3" y="284.7" width="195.4" height="154.9"/>
<path class="ln" d="M36.9 419.15H44.3M36.9 398.68H44.3M36.9 378.21H44.3M36.9 357.74H44.3M36.9 337.27H44.3M36.9 316.80H44.3M36.9 296.33H44.3M75.05 439.6V445.9M112.49 439.6V445.9M149.93 439.6V445.9M187.37 439.6V445.9M224.81 439.6V445.9"/>
<text class="a" text-anchor="middle" transform="translate(31.0 419.15) rotate(-90)">1</text><text class="a" text-anchor="middle" transform="translate(31.0 398.68) rotate(-90)">2</text><text class="a" text-anchor="middle" transform="translate(31.0 378.21) rotate(-90)">3</text><text class="a" text-anchor="middle" transform="translate(31.0 357.74) rotate(-90)">4</text><text class="a" text-anchor="middle" transform="translate(31.0 337.27) rotate(-90)">5</text><text class="a" text-anchor="middle" transform="translate(31.0 316.80) rotate(-90)">6</text><text class="a" text-anchor="middle" transform="translate(31.0 296.33) rotate(-90)">7</text>
<text class="a" text-anchor="middle" x="75.05" y="459.5">0</text><text class="a" text-anchor="middle" x="112.49" y="459.5">1</text><text class="a" text-anchor="middle" x="149.93" y="459.5">2</text><text class="a" text-anchor="middle" x="187.37" y="459.5">3</text><text class="a" text-anchor="middle" x="224.81" y="459.5">4</text>
<text class="t" text-anchor="middle" x="142.0" y="273.3">Noise Condition: sd = 1.0</text>
<text class="t" text-anchor="middle" x="142.0" y="477.4">Log Odds of Estimated Value</text>
<text class="t" text-anchor="middle" x="142.0" y="495.4">(Rescorla-Wagner)</text>
<text class="t" text-anchor="middle" transform="translate(12.9 361.0) rotate(-90)">True Value</text>
<text class="a" x="163.6" y="422.9" xml:space="preserve">r =  0.981</text>
<path class="pt" d="M64.8 415.6h0M76.8 413.9h0M58.5 418.9h0M63.1 425.3h0M64.8 422.7h0M57.2 425.2h0M72.1 416.1h0M93.2 396.9h0M72.2 422.3h0M63.2 424.8h0M84.7 411.9h0M80.7 413.8h0M70.4 417.9h0M59.5 425.5h0M75.2 418.0h0M80.8 407.8h0M59.6 428.7h0M65.3 423.0h0M52.4 432.3h0M58.3 428.1h0M53.4 430.4h0M63.4 419.5h0M58.7 426.9h0M80.8 414.6h0M78.6 417.0h0M68.7 417.8h0M55.2 430.6h0M67.0 424.0h0M75.1 417.0h0M73.6 416.7h0M56.6 428.4h0M64.6 423.0h0M65.2 426.8h0M71.2 425.2h0M85.8 403.0h0M56.5 425.0h0M73.4 418.5h0M84.4 407.0h0M65.4 424.1h0M73.9 418.4h0M72.7 415.8h0M67.4 416.8h0M53.9 427.6h0M71.9 416.9h0M90.3 395.9h0M58.8 430.1h0M79.5 406.0h0M71.4 416.7h0M59.7 423.7h0M111.5 380.5h0M80.8 406.6h0M61.9 428.9h0M76.6 417.2h0M78.6 410.7h0M66.1 420.2h0M88.2 409.7h0M71.5 419.0h0M83.0 409.2h0M99.3 394.5h0M68.7 422.7h0M77.2 415.5h0M68.3 422.0h0M75.3 416.0h0M57.5 429.5h0M63.0 421.8h0M68.5 419.8h0M85.3 406.2h0M90.1 401.5h0M60.2 429.3h0M63.2 423.9h0M78.9 408.6h0M56.2 427.1h0M68.8 422.0h0M71.9 420.1h0M89.1 398.7h0M83.0 408.8h0M68.7 421.4h0M67.2 421.2h0M62.2 420.4h0M94.1 392.1h0M64.5 421.9h0M73.0 420.4h0M72.8 413.7h0M68.5 417.9h0M65.1 418.6h0M59.1 427.5h0M72.1 418.0h0M59.5 421.3h0M79.5 400.2h0M83.0 408.4h0M70.9 419.6h0M78.6 407.8h0M70.5 422.5h0M91.8 401.9h0M64.0 418.1h0M78.8 410.1h0M62.9 427.9h0M73.4 414.3h0M56.2 430.9h0M58.4 431.5h0M66.8 420.1h0M58.5 427.3h0M70.9 417.0h0M115.6 372.4h0M64.5 425.0h0M59.0 423.9h0M77.2 415.4h0M72.1 412.6h0M69.2 418.8h0M63.9 419.9h0M80.3 407.9h0M82.0 412.3h0M64.8 428.0h0M74.5 418.5h0M71.3 417.8h0M61.4 427.9h0M75.3 414.5h0M64.5 424.6h0M84.9 404.8h0M77.4 415.9h0M73.3 416.6h0M68.5 424.5h0M71.3 419.2h0M57.8 430.2h0M58.3 427.5h0M74.5 413.3h0M51.1 433.6h0M82.9 406.2h0M56.3 430.4h0M85.4 408.0h0M58.7 425.5h0M94.7 406.2h0M72.4 416.3h0M61.9 429.2h0M96.4 399.8h0M86.7 396.5h0M69.4 417.6h0M72.9 419.8h0M61.2 418.8h0M64.1 425.7h0M85.5 401.1h0M63.8 423.0h0M71.3 419.2h0M57.2 423.9h0M65.2 422.4h0M57.6 426.6h0M89.6 399.4h0M71.6 420.4h0M99.6 402.9h0M72.4 416.3h0M65.7 424.3h0M67.3 421.9h0M62.8 423.9h0M72.1 417.8h0M71.9 422.0h0M68.3 421.1h0M61.7 428.2h0M62.3 426.6h0M113.2 389.5h0M58.9 423.1h0M62.9 426.4h0M77.5 412.5h0M97.2 395.3h0M55.0 430.0h0M64.9 418.9h0M63.7 424.6h0M57.1 432.3h0M77.5 408.3h0M67.2 417.1h0M73.9 416.3h0M66.7 424.4h0M75.4 411.1h0M63.1 421.9h0M67.0 419.0h0M68.4 426.9h0M61.5 428.2h0M94.1 395.9h0M68.9 424.2h0M82.9 415.1h0M74.6 418.8h0M61.6 421.6h0M65.3 424.1h0M78.7 409.3h0M66.5 422.3h0M65.2 420.2h0M70.0 416.8h0M86.4 399.8h0M82.2 410.3h0M76.4 413.9h0M60.5 423.0h0M53.6 428.9h0M84.1 404.6h0M88.7 403.5h0M71.1 419.1h0M78.4 410.4h0M70.5 406.9h0M81.8 406.8h0M82.6 404.1h0M65.0 422.8h0M93.8 393.0h0M58.4 428.5h0M81.8 406.6h0M87.6 412.6h0M87.1 406.2h0M108.3 384.1h0M97.8 393.4h0M60.0 427.8h0M57.7 429.5h0M81.9 406.5h0M61.3 427.1h0M74.4 417.8h0M86.9 406.6h0M58.3 429.2h0M59.3 433.1h0M75.2 414.2h0M68.3 417.6h0M62.4 420.3h0M69.2 418.1h0M62.3 425.1h0M59.3 428.6h0M72.7 418.0h0M59.9 425.9h0M54.9 429.1h0M80.9 411.9h0M74.3 419.6h0M74.9 411.0h0M62.6 425.3h0M68.6 424.1h0M62.5 427.4h0M62.1 425.8h0M66.4 415.7h0M67.4 425.3h0M78.1 413.9h0M76.0 415.0h0M111.8 379.8h0M54.9 427.8h0M84.4 405.1h0M69.6 418.9h0M74.6 417.2h0M54.7 428.9h0M70.7 421.8h0M82.2 407.3h0M74.1 419.2h0M68.8 416.5h0M68.9 419.8h0M94.9 400.0h0M71.2 418.0h0M62.8 422.6h0M62.9 424.4h0M88.7 405.0h0M50.0 433.1h0M60.7 421.1h0M95.2 397.2h0M68.4 416.5h0M62.3 426.4h0M58.2 425.1h0M82.5 402.5h0M70.4 414.7h0M76.8 416.7h0M67.5 419.3h0M71.5 417.9h0M84.1 405.5h0M75.4 410.7h0M77.6 414.8h0M61.7 426.5h0M79.8 412.0h0M58.6 423.6h0M82.1 401.5h0M51.0 429.2h0M68.8 417.7h0M70.2 417.5h0M61.5 428.8h0M110.8 386.8h0M96.3 393.6h0M65.1 421.2h0M84.3 407.5h0M81.6 412.7h0M52.0 433.2h0M76.5 415.6h0M69.5 418.4h0M71.0 416.5h0M63.4 427.1h0M65.4 420.6h0M65.4 418.6h0M93.5 400.8h0M75.4 413.9h0M70.1 418.4h0M98.6 391.4h0M66.8 423.8h0M65.5 423.3h0M58.9 431.3h0M101.9 390.4h0M91.8 404.2h0M90.1 404.9h0M83.9 409.2h0M71.8 416.3h0M74.3 415.6h0M66.2 420.0h0M78.2 420.0h0M71.0 416.6h0M101.0 393.0h0M83.8 411.5h0M65.8 418.0h0M62.3 423.8h0M63.2 423.0h0M97.0 390.5h0M73.6 411.2h0M70.2 418.0h0M71.5 420.6h0M62.9 428.1h0M70.4 417.3h0M84.6 405.6h0M61.3 422.4h0M70.8 420.7h0M70.0 419.2h0M68.8 415.5h0M58.3 430.5h0M67.7 419.2h0M61.0 425.8h0M81.0 405.1h0M61.1 424.7h0M75.9 412.3h0M101.0 393.9h0M68.8 421.6h0M65.8 422.3h0M72.9 415.8h0M69.7 417.8h0M67.9 426.2h0M70.8 413.1h0M119.0 378.2h0M69.3 420.6h0M69.0 420.0h0M59.6 426.1h0M74.6 415.3h0M56.1 426.9h0M56.4 427.1h0M92.6 398.1h0M57.0 424.0h0M91.9 400.8h0M103.7 391.9h0M62.5 415.3h0M73.3 411.5h0M112.8 381.9h0M69.5 420.0h0M65.2 421.6h0M60.4 428.7h0M74.2 416.9h0M101.4 394.6h0M92.9 405.3h0M62.0 427.8h0M65.3 425.9h0M60.4 423.3h0M74.5 413.4h0M64.7 419.9h0M78.7 414.2h0M83.2 414.9h0M69.5 419.8h0M66.2 418.0h0M73.4 414.7h0M70.2 418.3h0M78.8 411.8h0M113.8 383.3h0M83.0 410.3h0M62.8 416.3h0M61.4 431.4h0M74.6 412.5h0M54.2 432.2h0M63.1 430.6h0M83.2 404.0h0M76.5 407.6h0M64.9 419.1h0M57.2 431.3h0M70.0 421.1h0M68.9 424.4h0M79.7 408.9h0M120.1 372.3h0M79.5 414.2h0M61.8 425.5h0M64.8 425.0h0M71.2 416.8h0M69.9 421.1h0M59.7 427.5h0M73.6 415.7h0M59.0 429.1h0M86.7 402.2h0M87.8 403.2h0M86.2 401.6h0M67.0 422.9h0M78.6 411.7h0M68.7 417.8h0M66.2 422.1h0M66.6 421.0h0M64.8 429.3h0M58.5 430.1h0M80.9 406.5h0M67.9 419.2h0M76.2 415.4h0M86.3 404.0h0M56.5 430.1h0M62.4 424.7h0M73.9 416.2h0M77.8 413.3h0M68.4 422.4h0M81.4 403.1h0M70.2 414.6h0M51.9 426.3h0M64.5 426.6h0M87.4 406.6h0M82.1 411.7h0M56.6 430.9h0M99.3 395.3h0M79.5 409.7h0M94.1 394.6h0M61.8 421.2h0M65.2 420.0h0M58.8 428.7h0M72.1 419.9h0M107.7 390.9h0M62.9 423.9h0M74.5 416.4h0M58.1 429.5h0M64.3 421.4h0M80.1 403.5h0M57.4 430.0h0M83.0 402.2h0M74.5 412.1h0M60.7 427.3h0M65.1 424.7h0M65.6 421.4h0M72.2 421.1h0M62.4 422.8h0M65.6 426.0h0M62.2 420.4h0M61.5 426.3h0M60.7 427.1h0M67.9 417.4h0M78.7 403.8h0M60.0 430.4h0M68.9 416.7h0M66.8 424.1h0M64.1 426.5h0M84.1 405.5h0M65.5 422.8h0M102.4 393.2h0M64.4 424.4h0M73.1 413.1h0M69.0 420.1h0M65.2 423.8h0M80.2 409.1h0M69.9 418.7h0M79.2 410.1h0M70.1 419.4h0M58.0 428.1h0M65.1 419.1h0M75.6 417.9h0M83.8 404.3h0M62.9 426.6h0M65.6 418.2h0M57.5 430.7h0M77.5 409.0h0M70.1 426.9h0M53.4 432.3h0M67.2 417.4h0M92.8 401.5h0M61.6 428.9h0M54.3 427.7h0M64.3 426.0h0M63.3 426.9h0M71.9 410.8h0M65.1 425.5h0M62.0 424.9h0M75.8 408.9h0M62.3 424.4h0M75.4 412.4h0M57.4 424.2h0M66.9 428.2h0M55.0 431.3h0M105.4 384.2h0M70.3 420.1h0M74.0 414.3h0M75.2 417.5h0M72.2 416.3h0M72.9 416.3h0M110.6 383.9h0M61.7 426.9h0M57.2 427.8h0M61.1 427.8h0M64.4 428.5h0M79.7 407.3h0M81.5 406.7h0M60.7 424.6h0M60.6 428.9h0M68.4 419.2h0M99.4 394.8h0M56.9 427.8h0M79.4 412.1h0M60.4 426.6h0M86.7 401.9h0M61.4 427.6h0M61.4 420.6h0M59.0 429.5h0M62.1 426.7h0M89.9 394.9h0M83.2 407.2h0M71.7 419.9h0M61.3 426.7h0M58.0 429.8h0M66.0 421.1h0M68.0 417.5h0M67.0 419.2h0M68.7 419.3h0M64.6 427.4h0M73.0 418.9h0M68.3 418.5h0M97.2 397.7h0M108.3 382.2h0M67.2 417.2h0M64.7 422.8h0M67.3 418.4h0M59.7 423.3h0M67.6 424.4h0M64.3 418.5h0M62.8 426.4h0M74.3 409.1h0M69.8 417.6h0M73.7 413.2h0M67.5 420.6h0M56.8 425.1h0M61.5 424.9h0M68.3 419.9h0M62.4 423.3h0M73.9 416.3h0M74.4 417.2h0M56.8 428.7h0M72.8 417.9h0M55.6 427.0h0M65.8 422.9h0M69.9 420.7h0M89.3 408.7h0M75.3 418.4h0M74.5 416.7h0M73.9 419.5h0M63.2 421.1h0M70.4 422.2h0M60.0 426.7h0M66.0 420.0h0M68.7 422.6h0M73.1 415.4h0M64.1 427.6h0M69.2 415.7h0M73.9 416.9h0M67.7 419.7h0M65.4 422.7h0M72.2 410.2h0M60.2 429.7h0M78.2 413.0h0M70.9 415.2h0M70.2 413.7h0M73.3 413.5h0M68.7 424.5h0M67.8 421.0h0M79.1 409.5h0M78.7 412.0h0M73.8 415.6h0M58.9 430.8h0M81.3 411.0h0M91.9 399.7h0M90.5 403.6h0M70.1 413.9h0M58.1 429.8h0M84.6 404.2h0M69.8 420.0h0M73.3 415.7h0M74.0 414.0h0M57.2 431.1h0M62.4 428.0h0M62.8 423.0h0M88.1 398.5h0M68.9 421.3h0M78.0 414.6h0M104.2 386.5h0M101.5 391.4h0M67.2 418.8h0M67.7 418.4h0M63.1 427.8h0M66.5 424.4h0M77.5 413.5h0M75.6 412.4h0M67.1 415.8h0M88.1 404.5h0M64.8 424.2h0M74.0 418.4h0M89.2 408.4h0M80.8 410.9h0M92.1 402.1h0M72.7 411.9h0M71.6 421.7h0M79.0 413.0h0M65.7 425.9h0M59.6 431.6h0M81.0 411.0h0M75.4 417.4h0M73.0 413.6h0M59.2 430.0h0M70.6 420.7h0M62.4 421.8h0M59.1 426.1h0M81.3 410.6h0M67.8 421.3h0M87.3 404.9h0M78.6 413.3h0M62.5 423.9h0M72.2 417.0h0M86.5 407.3h0M53.7 432.0h0M68.8 419.6h0M74.9 411.0h0M84.1 407.7h0M112.1 387.7h0M84.8 402.4h0M78.0 413.2h0M78.3 414.2h0M81.0 406.6h0M64.3 423.9h0M67.3 418.1h0M82.4 404.7h0M112.6 380.2h0M71.5 419.2h0M71.1 418.9h0M76.7 415.9h0M95.5 395.6h0M67.0 419.3h0M103.6 393.7h0M65.5 425.2h0M66.8 419.7h0M74.7 419.2h0M84.8 406.6h0M88.6 402.1h0M64.1 429.2h0M54.6 425.3h0M70.3 412.2h0M66.6 424.3h0M57.5 428.9h0M84.4 403.7h0M83.4 412.0h0M79.8 412.0h0M62.1 422.5h0M85.3 404.0h0M71.2 419.9h0M95.9 400.8h0M56.2 426.0h0M63.5 423.1h0M72.6 415.0h0M58.6 424.4h0M80.5 408.5h0M69.3 415.7h0M60.6 426.4h0M77.6 417.0h0M69.0 420.9h0M88.4 405.8h0M66.5 423.1h0M67.6 421.7h0M95.4 400.0h0M116.5 372.9h0M111.8 381.7h0M74.9 416.8h0M71.7 413.6h0M97.8 392.9h0M73.8 420.0h0M66.5 426.0h0M70.8 417.6h0M74.7 413.6h0M64.8 424.6h0M58.4 429.6h0M56.7 427.9h0M83.1 409.5h0M65.3 425.2h0M69.9 419.7h0M84.0 414.2h0M85.0 409.1h0M70.2 419.9h0M81.8 410.1h0M71.7 424.4h0M70.8 420.0h0M59.3 426.3h0M91.2 401.3h0M71.3 418.5h0M62.0 424.4h0M68.2 420.7h0M69.6 420.0h0M81.4 408.9h0M56.4 429.5h0M64.0 426.6h0M62.0 421.2h0M89.4 403.8h0M70.1 418.9h0M82.8 407.4h0M104.9 379.1h0M74.1 418.8h0M61.7 421.7h0M88.5 398.3h0M80.5 412.8h0M79.0 409.6h0M64.6 421.9h0M101.3 381.8h0M102.6 387.1h0M80.1 410.4h0M83.8 409.0h0M68.7 421.3h0M81.3 408.3h0M70.5 420.7h0M75.0 411.9h0M78.6 409.0h0M73.8 421.8h0M54.8 430.6h0M80.5 413.6h0M64.0 424.3h0M72.4 421.0h0M63.0 423.5h0M69.2 422.1h0M55.6 431.5h0M91.0 398.9h0M75.7 413.7h0M86.7 400.6h0M112.5 379.9h0M70.3 418.3h0M59.1 432.5h0M62.2 426.7h0M56.0 426.6h0M64.7 422.6h0M72.0 415.8h0M67.7 418.6h0M80.5 414.6h0M59.6 429.8h0M78.2 414.9h0M67.5 418.7h0M66.5 419.2h0M73.8 416.8h0M61.0 422.8h0M66.1 423.9h0M57.7 431.2h0M69.3 417.7h0M108.9 384.4h0M108.1 380.7h0M95.2 398.0h0M77.4 408.3h0M60.3 423.1h0M102.8 395.3h0M68.4 418.6h0M63.6 418.7h0M71.2 419.6h0M69.9 416.6h0M55.3 420.5h0M70.2 416.9h0M63.9 426.7h0M68.3 421.0h0M131.5 371.4h0M70.1 419.6h0M70.6 420.1h0M75.3 412.4h0M82.4 407.9h0M65.6 427.7h0M70.6 418.8h0M86.2 405.0h0M68.2 414.2h0M71.6 416.1h0M94.9 392.4h0M66.8 422.4h0M69.9 416.8h0M66.9 422.0h0M94.5 393.5h0M61.8 431.7h0M60.7 423.6h0M66.1 422.5h0M90.4 408.1h0M80.8 410.3h0M92.6 395.0h0M59.9 430.0h0M86.1 406.5h0M70.8 421.8h0M58.2 423.0h0M79.7 411.8h0M55.7 425.4h0M61.3 432.3h0M67.5 421.3h0M57.0 429.8h0M66.7 423.8h0M78.1 414.2h0M71.4 414.5h0M107.7 391.6h0M68.2 421.1h0M52.9 428.8h0M68.0 425.6h0M67.1 425.8h0M64.0 426.5h0M79.3 412.7h0M61.8 423.6h0M58.9 432.8h0M88.3 408.1h0M72.7 418.9h0M81.7 413.6h0M70.1 414.9h0M84.1 409.9h0M75.0 416.4h0M86.5 400.0h0M71.5 413.8h0M74.2 412.9h0M77.2 411.4h0M60.1 429.2h0M68.7 419.5h0M68.2 420.9h0M73.7 415.0h0M59.6 427.5h0M104.8 389.8h0M74.4 415.7h0M60.1 429.1h0M58.1 429.7h0M66.7 420.0h0M73.0 418.6h0M62.4 423.3h0M78.1 416.3h0M64.6 423.6h0M80.1 410.3h0M61.5 424.1h0M69.8 419.1h0M99.0 393.9h0M95.1 395.4h0M101.6 387.9h0M90.7 396.8h0M124.1 370.1h0M95.5 396.7h0M102.9 391.5h0M102.7 394.5h0M93.7 396.4h0M97.3 386.8h0M95.0 395.3h0M112.6 373.3h0M106.8 380.1h0M106.1 391.8h0M121.3 375.3h0M113.9 376.8h0M98.0 392.1h0M118.5 375.0h0M114.3 371.9h0M112.0 383.1h0M99.9 390.3h0M129.8 372.3h0M118.1 370.8h0M105.3 391.9h0M92.9 395.4h0M124.5 374.0h0M107.3 381.3h0M101.3 394.1h0M106.2 386.5h0M96.8 391.1h0M121.4 372.7h0M103.0 391.2h0M99.2 394.0h0M101.5 396.8h0M104.5 390.1h0M232.1 290.1h0M209.1 300.1h0M155.2 327.2h0M166.9 326.7h0M163.8 332.9h0M149.9 351.4h0M149.4 351.9h0M140.6 353.0h0M139.2 354.7h0M134.4 356.6h0M140.8 358.1h0M128.4 358.1h0M124.8 365.7h0M128.9 366.7h0M126.5 368.1h0M129.6 369.8h0"/>
</g>
<g>
<rect class="ln" x="315.2" y="284.7" width="195.0" height="154.9"/>
<path class="ln" d="M307.8 419.15H315.2M307.8 398.68H315.2M307.8 378.21H315.2M307.8 357.74H315.2M307.8 337.27H315.2M307.8 316.80H315.2M307.8 296.33H315.2M319.20 439.6V445.9M356.80 439.6V445.9M394.40 439.6V445.9M432.00 439.6V445.9M469.60 439.6V445.9M507.20 439.6V445.9"/>
<text class="a" text-anchor="middle" transform="translate(301.9 419.15) rotate(-90)">1</text><text class="a" text-anchor="middle" transform="translate(301.9 398.68) rotate(-90)">2</text><text class="a" text-anchor="middle" transform="translate(301.9 378.21) rotate(-90)">3</text><text class="a" text-anchor="middle" transform="translate(301.9 357.74) rotate(-90)">4</text><text class="a" text-anchor="middle" transform="translate(301.9 337.27) rotate(-90)">5</text><text class="a" text-anchor="middle" transform="translate(301.9 316.80) rotate(-90)">6</text><text class="a" text-anchor="middle" transform="translate(301.9 296.33) rotate(-90)">7</text>
<text class="a" text-anchor="middle" x="319.20" y="459.5">-0.5</text><text class="a" text-anchor="middle" x="356.80" y="459.5">0.0</text><text class="a" text-anchor="middle" x="394.40" y="459.5">0.5</text><text class="a" text-anchor="middle" x="432.00" y="459.5">1.0</text><text class="a" text-anchor="middle" x="469.60" y="459.5">1.5</text><text class="a" text-anchor="middle" x="507.20" y="459.5">2.0</text>
<text class="t" text-anchor="middle" x="412.7" y="273.3">Noise Condition: sd = 2.0</text>
<text class="t" text-anchor="middle" x="412.7" y="477.4">Log Odds of Estimated Value</text>
<text class="t" text-anchor="middle" x="412.7" y="495.4">(Rescorla-Wagner)</text>
<text class="t" text-anchor="middle" transform="translate(283.8 361.0) rotate(-90)">True Value</text>
<text class="a" x="449.2" y="422.9" xml:space="preserve">r =  0.94</text>
<path class="pt" d="M356.9 416.5h0M356.6 415.7h0M341.7 420.8h0M353.2 425.9h0M352.2 422.0h0M349.7 425.9h0M342.3 419.3h0M371.8 395.8h0M342.8 422.4h0M349.2 423.5h0M367.1 410.7h0M343.0 412.4h0M352.7 415.9h0M341.8 425.6h0M357.7 417.6h0M360.8 409.2h0M331.6 427.5h0M345.3 422.5h0M330.2 432.3h0M335.2 428.8h0M337.5 430.0h0M345.5 417.7h0M342.1 428.6h0M344.5 414.9h0M368.9 415.4h0M357.6 420.6h0M340.3 432.0h0M337.3 422.9h0M336.4 417.4h0M346.9 416.6h0M337.3 429.1h0M361.0 421.9h0M350.7 427.0h0M340.1 425.1h0M376.3 401.1h0M351.5 425.5h0M351.1 418.7h0M372.9 404.8h0M347.6 422.9h0M345.7 418.9h0M344.8 416.2h0M351.3 417.1h0M347.0 428.2h0M343.2 416.4h0M362.6 398.0h0M342.2 428.9h0M345.0 405.4h0M365.0 417.9h0M342.0 425.6h0M397.3 380.0h0M375.1 407.3h0M331.4 426.7h0M345.2 417.7h0M374.6 410.5h0M347.3 419.0h0M360.0 409.1h0M352.1 419.5h0M367.9 409.5h0M385.7 396.3h0M345.3 424.9h0M351.6 415.7h0M346.2 422.2h0M354.9 416.7h0M349.3 428.5h0M346.3 423.9h0M361.2 420.6h0M358.7 405.4h0M373.3 401.3h0M351.3 429.3h0M352.0 424.7h0M362.6 408.2h0M336.1 427.9h0M341.8 422.7h0M349.2 418.4h0M374.1 398.6h0M359.3 408.4h0M338.2 419.6h0M342.5 421.2h0M352.0 419.1h0M384.3 392.8h0M337.6 421.8h0M345.6 421.7h0M344.5 413.3h0M346.2 419.3h0M372.6 419.5h0M341.7 426.7h0M348.9 416.7h0M342.8 422.8h0M361.3 400.4h0M347.6 408.7h0M350.8 418.1h0M358.8 408.6h0M357.4 420.5h0M356.0 402.7h0M354.2 418.7h0M368.5 410.0h0M327.6 427.0h0M360.2 413.0h0M327.6 431.6h0M339.7 431.0h0M357.8 421.7h0M342.8 425.4h0M355.3 416.4h0M394.6 372.1h0M345.2 423.9h0M352.4 423.2h0M352.6 417.0h0M357.0 411.4h0M351.9 420.0h0M354.5 419.5h0M349.9 408.3h0M358.7 411.4h0M337.4 426.9h0M353.7 420.3h0M358.7 417.3h0M343.7 426.5h0M363.3 414.1h0M336.7 424.3h0M363.2 402.6h0M347.0 416.0h0M352.8 415.2h0M346.0 424.4h0M348.7 419.6h0M328.7 431.3h0M340.7 426.2h0M353.0 413.3h0M339.9 432.1h0M361.8 407.0h0M345.2 429.9h0M363.8 407.3h0M331.2 425.2h0M361.3 407.0h0M343.3 415.7h0M345.0 428.1h0M382.0 397.3h0M376.0 393.9h0M353.5 418.2h0M338.8 421.3h0M334.6 421.2h0M338.7 427.5h0M366.7 401.9h0M335.8 424.4h0M351.4 418.1h0M345.7 424.4h0M349.2 425.4h0M350.2 427.2h0M377.7 398.1h0M347.2 419.1h0M366.7 405.2h0M355.5 417.0h0M337.6 424.7h0M356.6 420.7h0M351.5 422.1h0M349.9 417.8h0M343.1 421.6h0M373.2 419.8h0M345.1 427.9h0M349.7 424.3h0M394.9 390.2h0M351.1 424.3h0M343.1 426.9h0M360.5 414.0h0M368.7 394.9h0M343.8 429.4h0M338.8 419.4h0M347.8 422.6h0M341.2 430.0h0M351.0 408.1h0M363.9 418.0h0M344.5 417.7h0M350.8 423.2h0M353.8 411.9h0M347.9 423.2h0M345.4 418.4h0M357.5 427.2h0M347.3 427.3h0M386.8 395.9h0M351.3 423.5h0M359.8 413.1h0M352.0 418.8h0M345.2 421.7h0M350.2 421.8h0M361.3 408.8h0M347.2 420.2h0M340.6 418.6h0M349.7 417.6h0M374.6 398.6h0M357.7 409.8h0M358.8 413.7h0M344.8 424.2h0M333.1 427.8h0M359.4 402.5h0M360.9 403.5h0M347.9 419.0h0M357.0 411.1h0M370.5 406.8h0M356.0 406.3h0M350.9 404.9h0M351.2 420.9h0M374.8 394.2h0M339.8 427.0h0M382.0 406.1h0M368.1 412.4h0M368.5 405.0h0M395.3 383.5h0M378.2 394.8h0M347.5 427.0h0M334.2 431.0h0M358.4 406.8h0M339.1 426.6h0M362.0 418.4h0M374.7 406.0h0M334.4 429.8h0M343.7 432.8h0M353.7 414.8h0M359.3 417.6h0M346.7 419.3h0M358.4 417.3h0M342.6 426.3h0M337.2 430.0h0M349.5 419.7h0M343.5 425.7h0M334.6 429.5h0M348.9 411.7h0M362.2 419.5h0M354.2 412.8h0M330.6 427.3h0M330.1 423.6h0M324.1 427.3h0M339.2 424.7h0M363.2 415.6h0M333.3 423.9h0M354.0 413.9h0M343.4 414.1h0M401.2 378.4h0M342.1 428.1h0M367.0 405.1h0M359.6 417.4h0M362.5 417.1h0M346.1 428.3h0M342.9 422.8h0M352.9 408.9h0M343.6 418.2h0M340.7 416.5h0M360.4 420.8h0M368.6 400.1h0M352.2 417.7h0M349.6 421.5h0M358.0 424.3h0M362.6 403.7h0M343.2 432.2h0M348.1 424.0h0M372.8 396.4h0M339.2 417.3h0M347.1 426.6h0M337.9 425.4h0M366.2 401.1h0M355.1 415.6h0M352.8 417.6h0M358.5 418.3h0M347.5 416.1h0M364.4 404.9h0M361.0 411.5h0M354.5 414.7h0M346.5 427.8h0M356.7 411.3h0M352.7 423.4h0M363.7 402.1h0M331.2 427.8h0M349.8 419.1h0M359.5 417.0h0M336.9 428.8h0M379.0 388.6h0M374.4 393.6h0M347.8 423.6h0M361.5 406.9h0M358.6 413.3h0M324.6 431.2h0M364.9 413.2h0M354.8 420.0h0M346.8 417.9h0M350.7 427.7h0M351.7 419.1h0M359.4 419.7h0M362.3 400.2h0M367.2 413.7h0M351.9 418.0h0M363.5 391.7h0M350.9 422.9h0M345.5 420.7h0M331.0 430.5h0M378.0 391.8h0M352.5 403.4h0M369.4 404.7h0M359.5 408.6h0M351.1 416.4h0M363.9 415.9h0M349.1 420.5h0M344.9 420.1h0M345.8 415.9h0M377.7 392.6h0M366.5 411.3h0M347.0 417.6h0M338.9 422.9h0M351.3 422.9h0M380.9 391.8h0M358.2 411.0h0M366.5 416.3h0M339.8 421.7h0M342.9 427.9h0M338.9 418.8h0M362.4 406.4h0M351.3 421.8h0M356.6 419.9h0M340.7 419.6h0M358.6 416.0h0M343.8 429.3h0M348.2 420.4h0M359.5 425.2h0M364.7 405.5h0M338.3 425.2h0M362.4 410.3h0M364.8 391.5h0M358.6 420.2h0M352.0 422.5h0M351.3 413.9h0M355.7 417.8h0M345.9 425.3h0M371.0 411.0h0M387.8 378.6h0M340.2 421.0h0M335.8 419.5h0M340.1 427.4h0M345.0 413.8h0M339.6 427.5h0M344.3 427.5h0M369.5 398.5h0M336.9 425.8h0M377.0 401.1h0M377.0 392.2h0M356.4 413.7h0M365.7 410.5h0M380.5 381.4h0M343.2 420.9h0M362.0 424.4h0M339.0 429.0h0M345.1 418.0h0M375.5 393.8h0M362.0 406.4h0M334.8 427.1h0M340.8 427.4h0M346.2 422.9h0M355.2 414.5h0M352.9 420.7h0M342.5 415.3h0M345.2 414.4h0M353.6 419.9h0M348.2 418.9h0M362.4 415.4h0M352.7 419.2h0M348.6 411.2h0M392.1 382.3h0M352.7 410.5h0M354.0 418.0h0M346.2 429.1h0M371.1 412.2h0M336.5 431.1h0M344.2 428.6h0M366.3 404.6h0M367.1 409.8h0M332.9 420.1h0M335.6 429.8h0M349.6 419.9h0M347.9 424.3h0M355.2 411.0h0M407.3 372.4h0M361.8 416.1h0M344.5 424.0h0M339.7 427.6h0M348.6 417.1h0M350.5 421.1h0M349.0 427.7h0M363.1 414.7h0M338.3 425.8h0M362.5 401.7h0M362.5 402.4h0M375.5 401.6h0M348.1 422.8h0M360.6 412.8h0M353.3 419.4h0M349.9 420.1h0M347.1 421.0h0M333.6 427.1h0M335.5 428.3h0M363.9 407.2h0M352.1 419.5h0M351.8 414.3h0M364.0 403.4h0M346.8 429.7h0M340.9 425.2h0M355.3 415.5h0M354.5 413.2h0M341.9 421.2h0M356.7 403.5h0M350.6 415.1h0M335.6 427.6h0M348.4 425.4h0M355.3 406.9h0M354.9 410.5h0M341.4 433.3h0M373.4 396.0h0M363.2 410.1h0M380.2 396.3h0M336.6 421.1h0M345.7 421.0h0M335.3 426.7h0M358.6 419.2h0M379.2 390.0h0M348.4 423.0h0M365.1 414.8h0M336.0 431.5h0M348.0 420.4h0M369.4 402.8h0M339.0 428.0h0M377.2 403.2h0M361.5 412.3h0M348.5 425.3h0M346.7 422.6h0M344.5 422.4h0M348.7 417.1h0M343.7 421.4h0M333.0 424.3h0M350.7 421.4h0M347.4 426.4h0M340.4 428.7h0M347.7 418.1h0M364.9 405.4h0M340.5 429.9h0M353.8 417.5h0M356.8 423.9h0M337.0 425.4h0M366.6 405.5h0M350.7 423.0h0M378.4 393.0h0M342.5 424.1h0M349.7 413.5h0M345.2 420.4h0M348.8 424.5h0M369.5 409.5h0M345.5 420.0h0M363.1 411.9h0M354.5 417.5h0M348.2 425.6h0M352.0 418.1h0M355.2 416.3h0M372.3 403.1h0M335.5 424.7h0M351.4 418.8h0M326.7 431.0h0M347.2 410.4h0M336.5 427.4h0M327.8 430.3h0M354.2 419.2h0M375.9 401.0h0M337.1 429.1h0M340.8 425.9h0M342.8 425.4h0M339.8 427.9h0M357.4 412.7h0M346.0 424.7h0M341.5 424.3h0M354.2 410.4h0M340.8 425.2h0M362.7 412.4h0M339.8 426.4h0M350.1 426.4h0M335.9 430.6h0M397.8 382.5h0M340.3 422.3h0M350.0 415.9h0M354.4 418.6h0M356.8 416.7h0M351.1 418.7h0M404.3 383.3h0M342.5 425.3h0M340.7 429.4h0M338.6 424.5h0M350.6 427.7h0M368.1 406.7h0M366.3 406.5h0M332.2 426.3h0M342.1 427.9h0M344.7 421.0h0M378.0 395.8h0M347.7 426.5h0M353.6 410.9h0M343.2 424.9h0M373.7 402.3h0M342.8 427.4h0M346.3 420.8h0M332.4 428.1h0M338.2 425.9h0M366.0 395.9h0M370.2 405.7h0M348.0 422.2h0M335.5 424.7h0M337.1 430.8h0M339.0 421.5h0M329.6 419.8h0M358.5 418.3h0M358.1 418.2h0M332.1 427.6h0M346.1 418.0h0M352.4 418.2h0M370.2 395.9h0M381.5 384.0h0M346.6 419.1h0M342.5 423.6h0M347.2 419.4h0M346.7 423.2h0M342.8 424.3h0M345.9 417.2h0M342.1 425.3h0M348.7 409.4h0M359.8 417.5h0M343.1 415.1h0M348.9 420.3h0M346.5 423.8h0M345.3 424.6h0M350.6 419.8h0M354.0 422.1h0M347.0 415.0h0M351.0 417.8h0M340.8 428.1h0M349.1 416.9h0M336.3 429.2h0M353.5 424.8h0M343.7 420.2h0M357.2 409.9h0M350.8 416.4h0M352.0 415.1h0M350.8 420.3h0M345.7 422.1h0M349.9 421.5h0M343.3 426.4h0M351.7 420.3h0M354.6 422.1h0M347.1 418.0h0M351.3 428.3h0M351.5 415.1h0M357.6 416.8h0M350.9 420.2h0M345.0 421.8h0M345.8 411.1h0M348.4 429.8h0M352.5 412.5h0M349.3 414.6h0M362.1 416.2h0M357.0 412.7h0M357.1 424.2h0M359.5 420.7h0M365.1 409.1h0M358.8 413.1h0M359.1 415.2h0M330.7 429.0h0M359.9 410.9h0M371.2 399.6h0M363.7 404.2h0M356.1 415.4h0M329.6 430.3h0M371.8 403.3h0M358.2 419.4h0M345.2 415.0h0M357.3 413.1h0M348.8 430.2h0M342.9 428.3h0M338.5 423.5h0M365.5 399.0h0M353.0 422.2h0M367.0 415.9h0M376.4 385.5h0M380.4 391.1h0M345.3 418.4h0M347.0 419.4h0M342.4 428.0h0M344.3 423.1h0M352.5 410.6h0M370.5 412.1h0M351.8 416.2h0M365.4 405.0h0M351.0 424.1h0M350.9 417.3h0M360.5 406.4h0M365.8 409.9h0M361.0 401.9h0M361.6 412.9h0M354.7 419.6h0M360.5 412.7h0M341.1 424.5h0M338.3 430.0h0M347.9 409.0h0M350.0 416.0h0M357.3 414.9h0M343.4 430.6h0M348.5 421.6h0M342.9 423.6h0M337.9 424.5h0M359.4 410.8h0M348.7 420.2h0M373.0 406.7h0M356.5 413.2h0M342.2 421.9h0M350.6 418.5h0M359.0 409.1h0M334.2 432.2h0M335.8 419.8h0M348.2 410.6h0M353.0 408.2h0M386.3 386.1h0M368.9 401.9h0M356.4 413.6h0M362.9 414.4h0M355.8 406.1h0M353.2 422.1h0M353.5 419.0h0M360.1 404.7h0M401.4 380.8h0M340.5 418.3h0M343.6 418.3h0M352.5 416.0h0M376.8 396.2h0M349.9 417.8h0M361.9 392.8h0M340.6 427.2h0M348.8 419.1h0M365.5 419.6h0M372.0 408.4h0M368.4 402.4h0M332.2 428.0h0M345.0 425.0h0M348.1 413.3h0M346.1 425.2h0M341.2 429.5h0M364.7 402.5h0M359.7 412.2h0M355.8 412.5h0M342.9 421.7h0M377.7 404.0h0M352.5 420.8h0M366.5 402.0h0M338.0 423.8h0M344.4 425.4h0M357.7 416.4h0M349.8 423.9h0M370.7 410.7h0M357.7 414.7h0M335.8 424.9h0M365.5 417.3h0M355.0 421.4h0M370.7 405.6h0M353.5 423.4h0M337.4 423.0h0M368.4 398.9h0M396.1 372.5h0M400.5 378.9h0M344.6 416.3h0M352.1 415.3h0M389.2 391.8h0M354.2 418.6h0M340.0 426.0h0M365.0 416.5h0M348.6 412.7h0M346.3 425.7h0M336.8 430.8h0M342.6 429.1h0M358.9 408.5h0M338.8 423.3h0M351.2 418.9h0M345.5 414.5h0M363.5 408.2h0M345.8 422.4h0M364.2 409.9h0M340.2 425.8h0M343.3 421.7h0M344.5 426.3h0M377.8 403.0h0M337.8 418.0h0M344.9 423.8h0M351.6 422.6h0M339.9 419.3h0M355.4 407.3h0M342.5 428.9h0M336.8 426.0h0M343.3 421.5h0M377.4 404.5h0M344.1 417.6h0M355.7 408.5h0M376.5 380.0h0M341.8 419.5h0M339.7 421.2h0M382.8 399.9h0M366.0 412.5h0M352.4 408.3h0M358.6 421.8h0M395.0 381.3h0M381.9 388.9h0M364.4 411.2h0M363.5 406.9h0M344.9 417.4h0M348.5 408.4h0M343.4 418.5h0M357.1 412.7h0M358.6 408.9h0M343.0 422.7h0M344.0 430.8h0M349.2 413.3h0M349.7 425.4h0M344.8 420.3h0M346.0 422.2h0M340.6 421.1h0M335.3 433.4h0M365.7 397.9h0M343.2 415.4h0M368.7 402.0h0M390.7 380.1h0M357.0 417.5h0M339.2 430.5h0M336.6 425.6h0M336.9 428.3h0M330.5 421.9h0M345.1 417.6h0M359.1 418.9h0M365.7 414.3h0M343.7 427.7h0M357.1 412.6h0M353.9 419.4h0M351.1 420.4h0M339.4 417.9h0M340.3 422.2h0M352.7 422.3h0M345.3 429.9h0M352.6 417.4h0M384.8 383.8h0M388.3 380.9h0M369.6 396.1h0M355.1 409.3h0M332.5 422.1h0M377.3 396.5h0M347.8 417.1h0M349.2 418.9h0M359.1 421.4h0M356.3 416.6h0M342.3 422.5h0M354.1 418.5h0M332.2 425.4h0M354.1 421.7h0M403.4 371.9h0M349.3 417.9h0M352.4 418.7h0M368.2 410.5h0M358.3 408.6h0M335.2 427.3h0M362.6 420.7h0M365.2 405.3h0M364.5 414.9h0M348.5 414.6h0M381.7 393.7h0M340.6 424.0h0M356.5 417.4h0M344.2 422.4h0M372.6 393.2h0M346.4 431.4h0M346.8 425.2h0M333.0 424.0h0M359.0 409.5h0M353.6 411.5h0M366.5 395.2h0M334.9 430.0h0M358.9 407.3h0M348.4 421.7h0M339.7 423.9h0M346.3 411.6h0M339.3 427.2h0M341.7 430.1h0M338.7 423.1h0M342.8 429.5h0M347.8 423.5h0M353.2 411.6h0M357.4 413.7h0M374.5 389.2h0M346.6 419.8h0M332.4 429.3h0M346.9 426.1h0M351.3 425.5h0M336.4 428.5h0M365.0 413.3h0M331.3 425.4h0M331.1 431.2h0M354.4 409.1h0M361.2 417.6h0M352.0 412.5h0M357.7 416.2h0M346.4 409.5h0M352.5 416.2h0M375.4 398.5h0M356.7 413.0h0M338.4 412.5h0M357.9 412.5h0M344.3 428.3h0M358.0 420.5h0M351.1 421.8h0M342.8 415.4h0M338.5 428.4h0M387.5 391.3h0M347.3 416.9h0M344.2 427.1h0M334.8 429.2h0M348.9 420.1h0M355.2 420.4h0M339.8 423.8h0M371.2 419.0h0M345.9 423.7h0M361.1 410.5h0M339.5 425.4h0M351.3 417.9h0M375.3 393.8h0M363.7 395.6h0M371.7 387.2h0M376.3 395.6h0M401.0 370.8h0M355.4 396.1h0M364.0 389.9h0M374.4 394.5h0M373.4 396.5h0M388.7 386.7h0M365.7 395.5h0M403.6 371.2h0M388.4 382.2h0M376.8 390.0h0M395.6 375.7h0M402.3 378.1h0M383.4 392.4h0M403.6 375.2h0M395.1 371.9h0M386.2 383.4h0M371.7 391.6h0M394.9 373.5h0M397.9 371.0h0M376.5 391.3h0M379.6 396.2h0M401.0 374.9h0M395.5 381.8h0M378.1 394.7h0M394.3 385.0h0M379.7 392.6h0M407.3 372.3h0M383.4 390.6h0M381.6 393.5h0M373.6 396.3h0M370.9 391.5h0M496.1 289.9h0M502.9 300.0h0M456.7 326.7h0M463.4 327.2h0M442.9 333.2h0M424.0 350.8h0M425.3 352.4h0M428.4 353.4h0M426.6 356.0h0M426.1 358.4h0M420.9 358.1h0M414.1 355.8h0M412.8 365.6h0M414.6 367.7h0M417.0 366.7h0M410.2 369.0h0M408.2 370.3h0M401.2 367.7h0"/>
</g>
</svg>
</body></html>
